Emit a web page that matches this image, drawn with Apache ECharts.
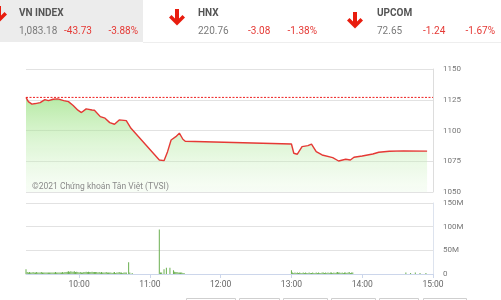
<!DOCTYPE html>
<html><head><meta charset="utf-8">
<script src="https://cdn.jsdelivr.net/npm/echarts@6/dist/echarts.min.js"></script>
<style>html,body{margin:0;padding:0;background:#fff}#c{width:501px;height:300px}</style>
</head><body><div id="c"></div>
<script>
// Index header data
const indexNames = ['VN INDEX', 'HNX', 'UPCOM'];
const indexValues = ['1,083.18', '220.76', '72.65'];
const indexChanges = ['-43.73', '-3.08', '-1.24'];
const indexPercents = ['-3.88%', '-1.38%', '-1.67%'];
const refPrice = 1126.91;
const copyright = '©2021 Chứng khoán Tân Việt (TVSI)';

// Session span (minutes since midnight)
const sessionStart = 555;
const sessionEnd = 900;

// Price line: minutes since midnight and index values
const priceTimes = [555, 557, 560, 563, 567, 571, 574, 578, 582, 587, 591, 595, 599, 602, 606, 611, 613, 618, 622, 626, 630, 634, 640, 644,
  668, 672, 675, 678, 682, 685, 688, 690,
  780, 782, 785, 789, 794, 797, 801, 806, 815, 820, 826, 830, 833, 840, 849, 854, 863, 875, 895];
const priceValues = [1126.9, 1123.5, 1121.4, 1121.9, 1122.7, 1125.1, 1124.3, 1125.4, 1125.7, 1124.3, 1123.5, 1120.3, 1116.5, 1114.6, 1117.6, 1116.7, 1116.5, 1111.3, 1110.0, 1106.4, 1105.1, 1108.6, 1108.0, 1101.8,
  1076.0, 1075.5, 1082.8, 1092.3, 1095.0, 1097.8, 1092.9, 1091.3,
  1089.0, 1081.5, 1080.7, 1086.9, 1087.7, 1089.0, 1082.8, 1080.1, 1077.9, 1075.2, 1076.6, 1076.0, 1078.2, 1079.3, 1080.9, 1082.3, 1083.1, 1083.4, 1083.2];

// Volume bars: minutes since midnight and volume in millions
const volTimes = [555,556,557,558,559,560,561,562,563,564,565,566,567,568,569,570,571,572,573,574,575,576,577,578,579,580,581,582,583,584,585,586,587,588,589,590,
  591,592,593,594,595,596,597,598,599,600,601,602,603,604,605,606,607,608,609,610,611,612,613,614,615,616,617,618,619,620,621,622,623,624,625,626,627,628,629,630,631,632,633,634,635,636,637,638,639,640,642,643,645,
  668,669,670,672,674,677,680,681,682,683,684,685,686,687,688,689,
  780,781,782,783,784,785,786,787,788,789,790,791,792,793,794,795,796,797,798,799,800,801,802,803,804,805,806,807,808,809,810,811,812,813,814,815,816,817,818,819,820,821,822,823,824,825,826,827,828,829,830,831,832,
  877,881,885,889,894];
const volValues = [10,4,3,4,3,3,4,3,3,4,3,3,3,4,3,3,3,3,3,3,3,3,3,3,3,4,3,3,3,3,3,4,3,4,4,5,
  6,5,6,5,5,6,4,5,4,3,4,3,3,4,4,5,4,5,4,4,5,4,4,4,4,3,4,3,4,3,3,3,4,3,3,3,3,2,3,4,2,3,3,4,3,3,2,3,3,3,25,3,2,
  94,3,3,10,13,13,8,5,4,4,3,3,3,3,2,2,
  8,3,2,3,2,3,2,3,2,2,3,2,3,2,2,3,2,2,3,2,2,3,2,3,2,2,3,3,2,3,2,3,2,3,3,2,3,2,3,4,3,3,2,3,2,3,3,2,3,4,2,3,3,
  3,2,3,2,2];

const timeTicks = [600, 660, 720, 780, 840, 900];

const FONT = 'Roboto';
const RED = '#e53935';
const fmtTime = v => { const h = Math.floor(v / 60), m = v % 60; return h + ':' + (m < 10 ? '0' + m : m); };

const chart = echarts.init(document.getElementById('c'), null, {renderer: 'canvas'});

const graphics = [
  {type: 'rect', shape: {x: 0, y: 0, width: 143, height: 42}, style: {fill: '#ececec'}, silent: true},
  {type: 'line', shape: {x1: 143, y1: 42.5, x2: 501, y2: 42.5}, style: {stroke: '#eeeeee', lineWidth: 1}, silent: true},
  {type: 'text', x: 32, y: 187, style: {text: copyright, fill: '#8a8a8a', font: '8.5px ' + FONT, verticalAlign: 'middle'}, silent: true, z: 100}
];
// thick down arrow outline in a 16 x 16.5 box
const arrowShape = [[6,0],[10,0],[10,9.5],[13.5,6],[16,8.5],[8,16.5],[0,8.5],[2.5,6],[6,9.5]];
const arrowX = [-9, 169, 347];
const arrowY = [6, 9, 12];
const nameX = [19, 198, 377];
const chgX = [64, 248, 423];
const pctX = [138, 317, 495];
for (let i = 0; i < indexNames.length; i++) {
  graphics.push({type: 'polygon', shape: {points: arrowShape.map(p => [arrowX[i] + p[0], arrowY[i] + p[1]])},
    style: {fill: '#e81c0e'}, silent: true});
  graphics.push({type: 'text', x: nameX[i], y: 13, style: {text: indexNames[i], fill: '#555', font: 'bold 10px ' + FONT, verticalAlign: 'middle'}, silent: true});
  graphics.push({type: 'text', x: nameX[i], y: 31, style: {text: indexValues[i], fill: '#7a7a7a', font: '10px ' + FONT, verticalAlign: 'middle'}, silent: true});
  graphics.push({type: 'text', x: chgX[i], y: 31, style: {text: indexChanges[i], fill: RED, font: '10px ' + FONT, verticalAlign: 'middle'}, silent: true});
  graphics.push({type: 'text', x: pctX[i], y: 31, style: {text: indexPercents[i], fill: RED, font: '10px ' + FONT, verticalAlign: 'middle', align: 'right'}, silent: true});
}
const btnX = [[186, 235], [239, 279], [283, 327], [331, 375], [379, 418], [423, 466]];
btnX.forEach(b => graphics.push({type: 'rect', shape: {x: b[0] + 0.5, y: 298.5, width: b[1] - b[0], height: 10}, style: {fill: '#fff', stroke: '#cfcfcf', lineWidth: 1}, silent: true}));

const priceData = priceTimes.map((t, i) => [t, priceValues[i]]);
const volData = volTimes.map((t, i) => [t, volValues[i]]);
const refData = [[sessionStart, refPrice], [sessionEnd, refPrice]];

chart.setOption({
  animation: false,
  textStyle: {fontFamily: FONT},
  grid: [
    {left: 26, right: 68, top: 69, height: 123},
    {left: 26, right: 68, top: 203, height: 71}
  ],
  xAxis: [
    {type: 'value', gridIndex: 0, min: sessionStart, max: sessionEnd, axisLine: {show: false}, axisTick: {show: false}, axisLabel: {show: false}, splitLine: {show: false}},
    {type: 'value', gridIndex: 1, min: sessionStart, max: sessionEnd,
      axisLine: {show: true, lineStyle: {color: '#ccd6eb', width: 1}},
      axisTick: {show: true, customValues: timeTicks, length: 4, lineStyle: {color: '#ccd6eb'}},
      axisLabel: {show: true, customValues: timeTicks, formatter: v => fmtTime(v), color: '#666', fontSize: 8.5, margin: 6},
      splitLine: {show: false}}
  ],
  yAxis: [
    {type: 'value', gridIndex: 0, position: 'right', min: 1050, max: 1150, interval: 25,
      axisLine: {show: true, lineStyle: {color: '#dddddd'}}, axisTick: {show: false},
      axisLabel: {color: '#777', fontSize: 8, margin: 10, formatter: v => String(v)},
      splitLine: {show: true, lineStyle: {color: '#e2e2e2', width: 1}}},
    {type: 'value', gridIndex: 1, position: 'right', min: 0, max: 150, interval: 50,
      axisLine: {show: true, lineStyle: {color: '#dde3ee'}}, axisTick: {show: false},
      axisLabel: {color: '#777', fontSize: 8, margin: 10, formatter: v => v === 0 ? '0' : v + 'M'},
      splitLine: {show: true, lineStyle: {color: '#e2e2e2', width: 1}}}
  ],
  series: [
    {type: 'line', xAxisIndex: 0, yAxisIndex: 0, data: priceData, symbol: 'none', smooth: false,
      lineStyle: {color: RED, width: 1.4},
      itemStyle: {color: RED},
      areaStyle: {color: new echarts.graphic.LinearGradient(0, 0, 0, 1, [
        {offset: 0, color: 'rgba(135,220,105,0.85)'},
        {offset: 1, color: 'rgba(225,248,218,0.35)'}
      ])}
    },
    {type: 'line', xAxisIndex: 0, yAxisIndex: 0, data: refData, symbol: 'none', silent: true, z: 3,
      lineStyle: {color: '#ee2020', type: [2, 1.5], width: 1},
      itemStyle: {color: '#ee2020'}},
    {type: 'bar', xAxisIndex: 1, yAxisIndex: 1, data: volData, barWidth: 1, itemStyle: {color: '#6aaf50'}}
  ],
  graphic: graphics
});
</script>
</body></html>
